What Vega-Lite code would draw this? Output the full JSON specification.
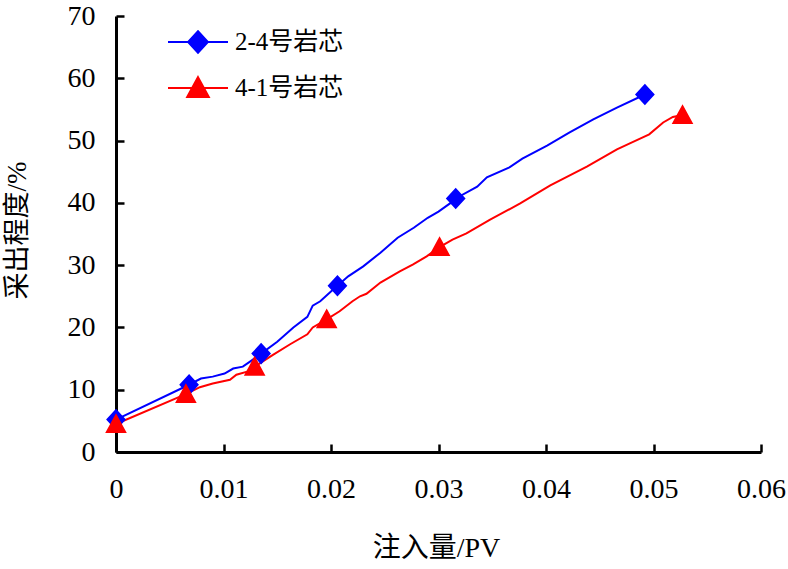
{
  "$schema": "https://vega.github.io/schema/vega-lite/v6.json",
  "width": 645,
  "height": 436,
  "autosize": {"type": "none"},
  "padding": {"left": 116, "top": 16, "right": 27, "bottom": 117},
  "background": "white",
  "data": {
    "values": [
      {"s": "2-4号岩芯", "x": 0, "y": 5.2, "m": 1},
      {"s": "2-4号岩芯", "x": 0.0068, "y": 10.8, "m": 1},
      {"s": "2-4号岩芯", "x": 0.0079, "y": 11.8, "m": 0},
      {"s": "2-4号岩芯", "x": 0.0090, "y": 12.1, "m": 0},
      {"s": "2-4号岩芯", "x": 0.0101, "y": 12.6, "m": 0},
      {"s": "2-4号岩芯", "x": 0.0109, "y": 13.4, "m": 0},
      {"s": "2-4号岩芯", "x": 0.0118, "y": 13.7, "m": 0},
      {"s": "2-4号岩芯", "x": 0.0127, "y": 14.8, "m": 0},
      {"s": "2-4号岩芯", "x": 0.0135, "y": 15.8, "m": 1},
      {"s": "2-4号岩芯", "x": 0.0150, "y": 17.7, "m": 0},
      {"s": "2-4号岩芯", "x": 0.0165, "y": 20.0, "m": 0},
      {"s": "2-4号岩芯", "x": 0.0178, "y": 21.7, "m": 0},
      {"s": "2-4号岩芯", "x": 0.0183, "y": 23.5, "m": 0},
      {"s": "2-4号岩芯", "x": 0.0190, "y": 24.2, "m": 0},
      {"s": "2-4号岩芯", "x": 0.0202, "y": 26.1, "m": 0},
      {"s": "2-4号岩芯", "x": 0.0206, "y": 26.7, "m": 1},
      {"s": "2-4号岩芯", "x": 0.0216, "y": 28.2, "m": 0},
      {"s": "2-4号岩芯", "x": 0.0230, "y": 29.8, "m": 0},
      {"s": "2-4号岩芯", "x": 0.0246, "y": 32.0, "m": 0},
      {"s": "2-4号岩芯", "x": 0.0262, "y": 34.4, "m": 0},
      {"s": "2-4号岩芯", "x": 0.0277, "y": 36.0, "m": 0},
      {"s": "2-4号岩芯", "x": 0.0290, "y": 37.6, "m": 0},
      {"s": "2-4号岩芯", "x": 0.0300, "y": 38.6, "m": 0},
      {"s": "2-4号岩芯", "x": 0.0313, "y": 40.2, "m": 0},
      {"s": "2-4号岩芯", "x": 0.0316, "y": 40.7, "m": 1},
      {"s": "2-4号岩芯", "x": 0.0336, "y": 42.6, "m": 0},
      {"s": "2-4号岩芯", "x": 0.0345, "y": 44.1, "m": 0},
      {"s": "2-4号岩芯", "x": 0.0366, "y": 45.7, "m": 0},
      {"s": "2-4号岩芯", "x": 0.0378, "y": 47.1, "m": 0},
      {"s": "2-4号岩芯", "x": 0.0401, "y": 49.2, "m": 0},
      {"s": "2-4号岩芯", "x": 0.0422, "y": 51.3, "m": 0},
      {"s": "2-4号岩芯", "x": 0.0444, "y": 53.4, "m": 0},
      {"s": "2-4号岩芯", "x": 0.0466, "y": 55.3, "m": 0},
      {"s": "2-4号岩芯", "x": 0.0492, "y": 57.4, "m": 1},
      {"s": "4-1号岩芯", "x": 0, "y": 4.5, "m": 1},
      {"s": "4-1号岩芯", "x": 0.0065, "y": 9.3, "m": 1},
      {"s": "4-1号岩芯", "x": 0.0078, "y": 10.4, "m": 0},
      {"s": "4-1号岩芯", "x": 0.0090, "y": 11.0, "m": 0},
      {"s": "4-1号岩芯", "x": 0.0106, "y": 11.6, "m": 0},
      {"s": "4-1号岩芯", "x": 0.0112, "y": 12.4, "m": 0},
      {"s": "4-1号岩芯", "x": 0.0122, "y": 12.9, "m": 0},
      {"s": "4-1号岩芯", "x": 0.0129, "y": 13.7, "m": 1},
      {"s": "4-1号岩芯", "x": 0.0146, "y": 15.6, "m": 0},
      {"s": "4-1号岩芯", "x": 0.0162, "y": 17.3, "m": 0},
      {"s": "4-1号岩芯", "x": 0.0178, "y": 18.9, "m": 0},
      {"s": "4-1号岩芯", "x": 0.0183, "y": 20.0, "m": 0},
      {"s": "4-1号岩芯", "x": 0.0196, "y": 21.3, "m": 1},
      {"s": "4-1号岩芯", "x": 0.0208, "y": 22.6, "m": 0},
      {"s": "4-1号岩芯", "x": 0.0220, "y": 24.2, "m": 0},
      {"s": "4-1号岩芯", "x": 0.0227, "y": 25.0, "m": 0},
      {"s": "4-1号岩芯", "x": 0.0233, "y": 25.4, "m": 0},
      {"s": "4-1号岩芯", "x": 0.0246, "y": 27.2, "m": 0},
      {"s": "4-1号岩芯", "x": 0.0264, "y": 29.0, "m": 0},
      {"s": "4-1号岩芯", "x": 0.0276, "y": 30.1, "m": 0},
      {"s": "4-1号岩芯", "x": 0.0289, "y": 31.4, "m": 0},
      {"s": "4-1号岩芯", "x": 0.0301, "y": 32.9, "m": 1},
      {"s": "4-1号岩芯", "x": 0.0313, "y": 34.1, "m": 0},
      {"s": "4-1号岩芯", "x": 0.0326, "y": 35.1, "m": 0},
      {"s": "4-1号岩芯", "x": 0.0348, "y": 37.3, "m": 0},
      {"s": "4-1号岩芯", "x": 0.0376, "y": 39.9, "m": 0},
      {"s": "4-1号岩芯", "x": 0.0404, "y": 42.8, "m": 0},
      {"s": "4-1号岩芯", "x": 0.0438, "y": 45.8, "m": 0},
      {"s": "4-1号岩芯", "x": 0.0466, "y": 48.6, "m": 0},
      {"s": "4-1号岩芯", "x": 0.0481, "y": 49.8, "m": 0},
      {"s": "4-1号岩芯", "x": 0.0496, "y": 51.0, "m": 0},
      {"s": "4-1号岩芯", "x": 0.0509, "y": 52.9, "m": 0},
      {"s": "4-1号岩芯", "x": 0.0518, "y": 53.8, "m": 0},
      {"s": "4-1号岩芯", "x": 0.0527, "y": 54.1, "m": 1}
    ]
  },
  "encoding": {
    "x": {
      "field": "x",
      "type": "quantitative",
      "scale": {"domain": [0, 0.06], "nice": false, "zero": false},
      "axis": {
        "values": [0, 0.01, 0.02, 0.03, 0.04, 0.05, 0.06],
        "format": "~g",
        "grid": false,
        "domainColor": "black",
        "domainWidth": 3,
        "tickColor": "black",
        "tickWidth": 2.5,
        "tickSize": -8,
        "labelFont": "Liberation Serif",
        "labelFontSize": 28,
        "labelColor": "black",
        "labelFlush": false,
        "labelOverlap": false,
        "labelPadding": 31,
        "title": "注入量/PV",
        "titleFont": "Liberation Serif, Noto Sans CJK SC",
        "titleFontSize": 28,
        "titleFontWeight": "normal",
        "titleColor": "black",
        "titleX": 320,
        "titleY": 96,
        "titleBaseline": "middle",
        "titleAlign": "center"
      }
    },
    "y": {
      "field": "y",
      "type": "quantitative",
      "scale": {"domain": [0, 70], "nice": false},
      "axis": {
        "values": [0, 10, 20, 30, 40, 50, 60, 70],
        "grid": false,
        "domainColor": "black",
        "domainWidth": 3,
        "tickColor": "black",
        "tickWidth": 2.5,
        "tickSize": -8,
        "labelFont": "Liberation Serif",
        "labelFontSize": 28,
        "labelColor": "black",
        "labelFlush": false,
        "labelOverlap": false,
        "labelPadding": 29,
        "title": "采出程度/%",
        "titleFont": "Liberation Serif, Noto Sans CJK SC",
        "titleFontSize": 27,
        "titleFontWeight": "normal",
        "titleColor": "black",
        "titleX": -99,
        "titleY": 214,
        "titleAngle": -90,
        "titleBaseline": "middle",
        "titleAlign": "center"
      }
    }
  },
  "layer": [
    {
      "transform": [{"filter": "datum.s == '2-4号岩芯'"}],
      "mark": {"type": "line", "strokeWidth": 2, "color": "#0000FF"},
      "encoding": {}
    },
    {
      "transform": [{"filter": "datum.s == '4-1号岩芯'"}],
      "mark": {"type": "line", "strokeWidth": 2, "color": "#FF0000"},
      "encoding": {}
    },
    {
      "transform": [{"filter": "datum.m == 1"}],
      "mark": {"type": "point", "filled": true, "opacity": 1, "size": 3600},
      "encoding": {
        "color": {
          "field": "s",
          "type": "nominal",
          "scale": {"domain": ["2-4号岩芯", "4-1号岩芯"], "range": ["#0000FF", "#FF0000"]},
          "legend": {
            "orient": "none",
            "legendX": 51,
            "legendY": -5,
            "title": null,
            "symbolSize": 3600,
            "symbolStrokeWidth": 2,
            "symbolStrokeColor": {"expr": "datum.value == '2-4号岩芯' ? '#0000FF' : '#FF0000'"},
            "labelOffset": 6,
            "rowPadding": -7,
            "labelFont": "Liberation Serif, Noto Sans CJK SC",
            "labelFontSize": 25,
            "labelColor": "black",
            "labelLimit": 300
          }
        },
        "shape": {
          "field": "s",
          "type": "nominal",
          "scale": {
            "domain": ["2-4号岩芯", "4-1号岩芯"],
            "range": [
              "M-1,0H1M0,-0.36L0.33,0L0,0.36L-0.33,0Z",
              "M-1,0H1M0,-0.36L0.36,0.3L-0.36,0.3Z"
            ]
          }
        }
      }
    }
  ],
  "config": {
    "view": {"stroke": null}
  }
}
